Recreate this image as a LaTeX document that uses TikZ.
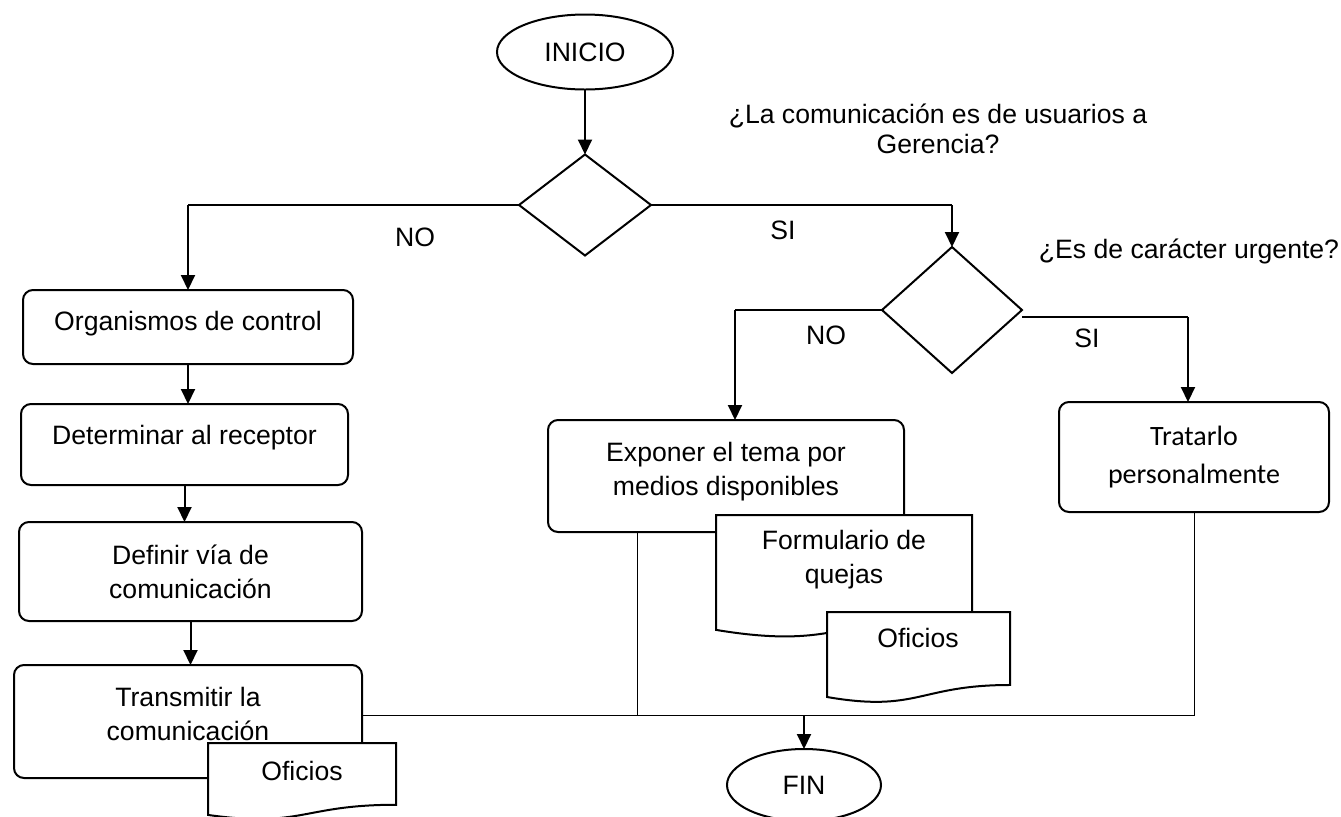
\documentclass[tikz,border=0pt]{standalone}
\usepackage{fontspec}
\setmainfont{Liberation Sans}
\newfontfamily\calibri{Carlito}
\usetikzlibrary{arrows.meta}
\usetikzlibrary{calc}
\usetikzlibrary{shapes.geometric}
% hoja con borde inferior ondulado: x0, y0, ancho, alto
\newcommand{\hoja}[4]{\draw[hoja] (#1,#2) -- (#1+#3,#2) -- (#1+#3,#2+0.802*#4) .. controls (#1+0.5*#3,#2+0.802*#4) and (#1+0.5*#3,#2+1.107*#4) .. (#1,#2+0.934*#4) -- cycle;}

\begin{document}
\begin{tikzpicture}[
	x=0.5pt, y=-0.5pt,
  > = {Triangle[length=7.5pt,width=7pt]},
  every node/.style = {font=\fontsize{13.3}{17}\selectfont, inner sep=0pt, outer sep=0pt},
  caja/.style = {draw, line width=1pt, rounded corners=5pt, align=center},
  decision/.style = {draw, diamond, line width=1pt},
  terminal/.style = {draw, ellipse, line width=1pt},
  hoja/.style = {draw, fill=white, line width=1pt},
  flecha/.style = {->, line width=1pt},
  rama/.style = {line width=0.6pt},
  union/.style = {line width=0.5pt}
  ]
	\useasboundingbox (0,0) rectangle (1341,816);

	\node[terminal, minimum width=88pt, minimum height=37.5pt] (ini) at (585,52) {INICIO};
	\node[decision, minimum width=66pt, minimum height=50.5pt] (d1) at (585,205) {};
	\node[align=center, font=\fontsize{13.3}{15}\selectfont] (preg1) at (938,129) {¿La comunicación es de usuarios a\\Gerencia?};
	\node (no1) at (415,237) {NO};
	\node (si1) at (783,230) {SI};

	% rama NO (text depth sube el texto dentro de la caja)
	\node[caja, minimum width=165pt, minimum height=37pt, text depth=5.8pt] (org) at (188,327) {Organismos de control};
	\node[caja, minimum width=163.5pt, minimum height=40.5pt, text depth=10pt] (det) at (184.5,444.5) {Determinar al receptor};
	\node[caja, minimum width=171.5pt, minimum height=49.5pt] (def) at (190.5,571.5) {Definir vía de\\comunicación};
	\node[caja, minimum width=174pt, minimum height=56.5pt, text depth=8pt] (tra) at (188,721.5) {Transmitir la\\comunicación};
	\hoja{208}{743}{188}{77}
	\node (of1) at (302,771) {Oficios};

	% rama SI
	\node[decision, minimum width=70pt, minimum height=63pt] (d2) at (952,310) {};
	\node (preg2) at (1189,251) {¿Es de carácter urgente?};
	\node (no2) at (826,335) {NO};
	\node (si2) at (1087,338) {SI};
	\node[caja, minimum width=178pt, minimum height=56pt, text depth=7.3pt] (expo) at (726,476) {Exponer el tema por\\medios disponibles};
	\hoja{716}{515}{256}{123}
	\node[align=center] (form) at (844,560) {Formulario de\\quejas};
	\hoja{827}{612}{183}{91}
	\node (of2) at (918,638) {Oficios};
	\node[caja, minimum width=135pt, minimum height=55pt, font=\calibri\fontsize{14}{19}\selectfont] (trat) at (1194,457) {Tratarlo\\personalmente};

	\node[terminal, minimum width=77pt, minimum height=36pt] (fin) at (804,785) {FIN};

	\draw[flecha] (ini.south) -- (d1.north);
	\draw[rama] (d1.west) -- (d1.west -| org.north);
	\draw[flecha] (d1.west -| org.north) -- (org.north);
	\draw[flecha] (org.south) -- (org.south |- det.north);
	\draw[flecha] (det.south) -- (det.south |- def.north);
	\draw[flecha] (def.south) -- (def.south |- tra.north);

	\draw[rama] (d1.east) -- (d1.east -| d2.north);
	\draw[flecha] (d1.east -| d2.north) -- (d2.north);

	\coordinate (llegaNo) at ([xshift=4.5pt]expo.north);
	\coordinate (saleSi) at ([yshift=-3.5pt]d2.east);
	\coordinate (llegaSi) at ([xshift=-3pt]trat.north);
	\draw[rama] (d2.west) -- (d2.west -| llegaNo);
	\draw[flecha] (d2.west -| llegaNo) -- (llegaNo);
	\draw[rama] (saleSi) -- (saleSi -| llegaSi);
	\draw[flecha] (saleSi -| llegaSi) -- (llegaSi);

	% todas las ramas llegan a FIN
	\coordinate (une) at ([yshift=3pt]tra.east);
	\coordinate (baja) at ([xshift=44.5pt]expo.south west);
	\draw[union] (une) -| (trat.south);
	\draw[union] (baja) -- (baja |- une);
	\draw[flecha] (fin.north |- une) -- (fin.north);

\end{tikzpicture}
\end{document}
